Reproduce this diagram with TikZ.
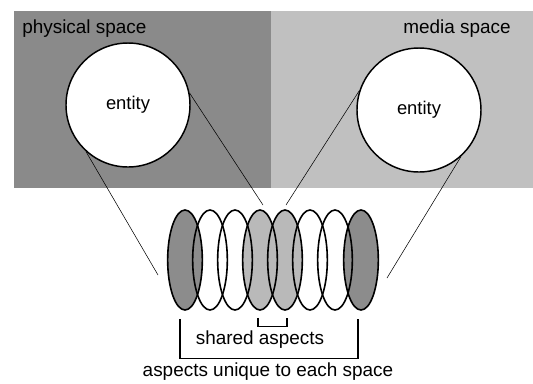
\documentclass[tikz,border=0pt]{standalone}
\usepackage{fontspec}
\setmainfont{Liberation Sans}
\usepackage{tikz}
\usetikzlibrary{shapes.geometric, calc}
\definecolor{physgray}{RGB}{138,138,138}
\definecolor{mediagray}{RGB}{192,192,192}
\definecolor{darkaspect}{RGB}{140,140,140}
\definecolor{lightaspect}{RGB}{185,185,185}
\tikzset{
  space/.style={rectangle, draw=none, inner sep=0pt, anchor=north west},
  entity/.style={circle, draw=black, fill=white, minimum size=93pt,
    inner sep=0pt, line width=1.1pt, font=\fontsize{13.8}{16}\selectfont},
  aspect/.style={ellipse, draw=black, minimum width=26pt, minimum height=75pt,
    inner sep=0pt, line width=1.2pt},
  label/.style={font=\fontsize{14.2}{17}\selectfont, inner sep=0pt},
  link/.style={thin, color=black},
  bracket/.style={line width=0.9pt, color=black}
}

\begin{document}
\begin{tikzpicture}[x=0.75pt, y=-0.75pt]
  \useasboundingbox (0,0) rectangle (533,383);
  % Spaces
  \fill[physgray] (14,11) rectangle (271,188);
  \fill[mediagray] (271,11) rectangle (533,188);
  \node[label, anchor=west] (phys) at (22,29) {physical space};
  \node[label, anchor=east] (media) at (511,29) {media space};

  % Entities
  \node[entity] (lc) at (128,105) {entity};
  \node[entity] (rc) at (419,110) {entity};

  % Aspects: fills first, outlines on top
  \foreach \i/\x/\c in {1/185/darkaspect, 2/210/none, 3/235/none, 4/260/lightaspect,
                        5/285/lightaspect, 6/310/none, 7/335/none, 8/361/darkaspect}
    \node[aspect, draw=none, fill=\c] (f\i) at (\x,260) {};
  \foreach \i/\x in {1/185, 2/210, 3/235, 4/260, 5/285, 6/310, 7/335, 8/361}
    \node[aspect] (e\i) at (\x,260) {};

  % Links
  \coordinate (t1) at (158,275);
  \coordinate (t2) at (263,205);
  \coordinate (t3) at (286,205);
  \coordinate (t4) at (387,278);
  \draw[link] (lc.228) -- (t1);
  \draw[link] (lc.11) -- (t2);
  \draw[link] (rc.162) -- (t3);
  \draw[link] (rc.312) -- (t4);

  % Brackets
  \draw[bracket] ($(e4.south)+(-2,7)$) |- ($(e5.south)+(2,16)$) -- ($(e5.south)+(2,7)$);
  \draw[bracket] ($(e1.south)+(-5,8)$) |- ($(e8.south)+(-3,48)$) -- ($(e8.south)+(-3,8)$);
  \node[label] (shared) at (260,340) {shared aspects};
  \node[label] (unique) at (268,372) {aspects unique to each space};
\end{tikzpicture}
\end{document}
